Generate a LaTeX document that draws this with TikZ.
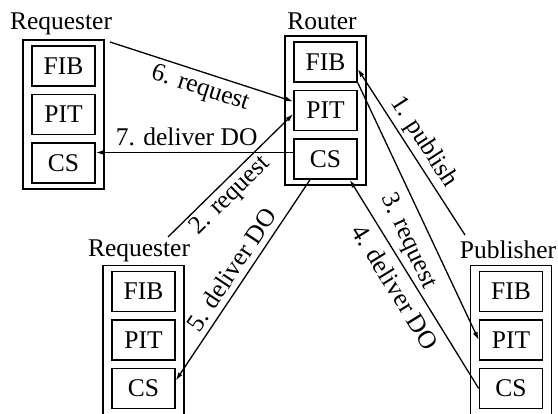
\documentclass[tikz,border=0pt]{standalone}
\usepackage{fontspec}
\setmainfont{Liberation Serif}
\usetikzlibrary{arrows.meta,calc}
\tikzset{
  outerbox/.style={draw, line width=1.6pt, minimum width=81pt, minimum height=149pt, inner sep=0pt},
  innerbox/.style={draw, line width=1.6pt, minimum width=63pt, minimum height=40pt, inner sep=0pt, font=\fontsize{25.5}{30}\selectfont},
  title/.style={font=\fontsize{25.5}{30}\selectfont, inner sep=0pt, anchor=base},
  conn/.style={line width=1.3pt, -{Latex[length=8pt,width=5pt]}},
  lbl/.style={font=\fontsize{25.5}{30}\selectfont, sloped, inner sep=0pt, anchor=center}
}
\newcommand\mystack[3]{%
  \node[outerbox] (#1) at (#2,#3) {};
  \node[innerbox] (#1F) at (#2,#3-48.5) {FIB};
  \node[innerbox] (#1P) at (#2,#3) {PIT};
  \node[innerbox] (#1C) at (#2,#3+48.5) {CS};
}
\begin{document}
\begin{tikzpicture}[x=1pt,y=-1pt]
\useasboundingbox (0,0) rectangle (558,414);
\fill[white] (0,0) rectangle (558,414);
\clip (0,0) rectangle (558,414);
\mystack{tr}{63.5}{114.5}
\mystack{ro}{325.5}{110.5}
\mystack{br}{143.5}{340}
\mystack{pu}{511}{340}
\node[title] (trT) at (61,30) {Requester};
\node[title] (roT) at (322,30) {Router};
\node[title] (brT) at (139,257) {Requester};
\node[title] (puT) at (508,259) {Publisher};
\coordinate (c1) at (465,235);
\coordinate (c2) at (168,237);
\coordinate (c6) at (110,42);
\coordinate (a7) at ([yshift=6.5pt]roC.west);
\draw[conn] (c1) -- ([yshift=-7pt]roF.east) node[lbl,pos=0.51,yshift=15.5pt]{1. publish};
\draw[conn] (roF.south east) -- (puP.west) node[lbl,pos=0.58,yshift=-21.9pt]{3. request};
\draw[conn] (puC.west) -- ([xshift=-8pt]roC.south east) node[lbl,pos=0.53,yshift=-17.7pt]{4. deliver DO};
\draw[conn] ([xshift=-15.5pt]roC.south) -- ([yshift=8pt]brC.east) node[lbl,pos=0.49,yshift=15.4pt]{5. deliver DO};
\draw[conn] (c2) -- ([yshift=-3.5pt]roP.west) node[lbl,pos=0.42,yshift=-14.6pt]{2. request};
\draw[conn] (c6) -- ([yshift=9pt]roP.west) node[lbl,pos=0.52,yshift=-16.7pt]{6. request};
\draw[conn] (a7) -- (a7 -| trC.east) node[lbl,pos=0.54,yshift=15.5pt]{7. deliver DO};
\end{tikzpicture}
\end{document}
